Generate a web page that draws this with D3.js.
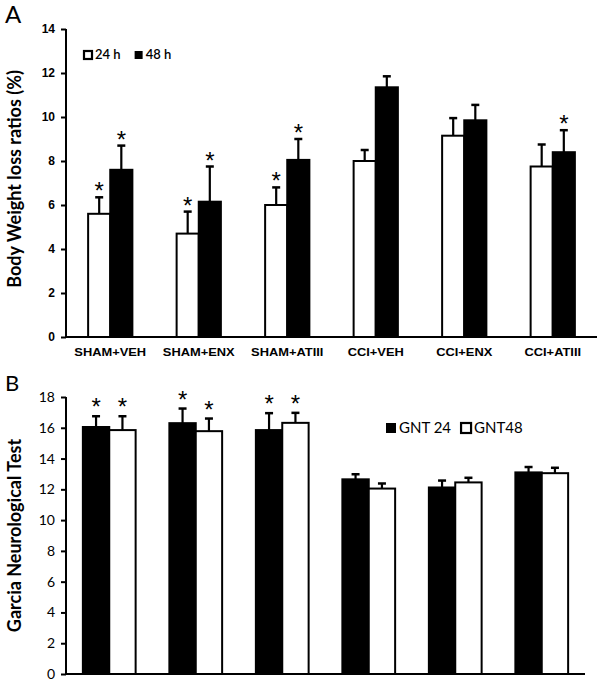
<!DOCTYPE html>
<html><head><meta charset="utf-8">
<script src="https://cdn.jsdelivr.net/npm/d3@7"></script>
<style>body{margin:0;background:#fff}svg{display:block}</style>
</head><body>
<script>
// ---- Data ----
const groups = ["SHAM+VEH","SHAM+ENX","SHAM+ATIII","CCI+VEH","CCI+ENX","CCI+ATIII"];
// Panel A: body weight loss ratios (%)
const bw24 = [5.6, 4.7, 6.0, 8.0, 9.15, 7.75];
const bw24Err = [0.75, 1.0, 0.8, 0.5, 0.8, 1.0];
const bw48 = [7.6, 6.15, 8.05, 11.35, 9.85, 8.4];
const bw48Err = [1.1, 1.6, 0.95, 0.5, 0.7, 1.0];
const bw24Star = [true, true, true, false, false, false];
const bw48Star = [true, true, true, false, false, true];
const aTicks = [0,2,4,6,8,10,12,14];
// Panel B: Garcia neurological test
const gnt24 = [16.05, 16.3, 15.85, 12.65, 12.12, 13.1];
const gnt24Err = [0.7, 0.95, 1.1, 0.33, 0.45, 0.35];
const gnt48 = [15.85, 15.78, 16.32, 12.05, 12.45, 13.05];
const gnt48Err = [0.9, 0.82, 0.65, 0.33, 0.3, 0.35];
const gnt24Star = [true, true, true, false, false, false];
const gnt48Star = [true, true, true, false, false, false];
const bTicks = [0,2,4,6,8,10,12,14,16,18];

const W = 600, H = 684;
const svg = d3.select("body").append("svg").attr("width", W).attr("height", H);

const calib = "Lato, 'Open Sans', sans-serif";
const arial = "'Liberation Sans', Arial, sans-serif";

function panel(opt) {
  const g = svg.append("g");
  const x = d3.scaleBand().domain(groups).range([opt.x0, opt.x1]).paddingInner(opt.pad).paddingOuter(opt.pad/2);
  const y = d3.scaleLinear().domain([0, opt.ymax]).range([opt.yb, opt.yt]);
  const x1 = d3.scaleBand().domain([0,1]).range([0, x.bandwidth()]);

  // bars
  opt.series.forEach((s, si) => {
    const gg = g.append("g");
    groups.forEach((c, i) => {
      const bx = x(c) + x1(si);
      const v = s.vals[i], e = s.errs[i];
      const cx = bx + x1.bandwidth()/2;
      gg.append("line").attr("x1", cx).attr("x2", cx).attr("y1", y(v)).attr("y2", y(v+e))
        .attr("stroke", "#000").attr("stroke-width", 2.2);
      gg.append("line").attr("x1", cx-4).attr("x2", cx+4).attr("y1", y(v+e)).attr("y2", y(v+e))
        .attr("stroke", "#000").attr("stroke-width", 2.5);
      gg.append("rect").attr("x", bx).attr("y", y(v)).attr("width", x1.bandwidth()).attr("height", y(0)-y(v))
        .attr("fill", s.fill).attr("stroke", "#000").attr("stroke-width", 2);
      if (s.stars[i]) {
        gg.append("text").attr("x", cx).attr("y", y(v+e) - 3 + opt.starDy)
          .attr("text-anchor", "middle").attr("font-family", arial).attr("font-size", 24)
          .attr("fill", "#000").text("*");
      }
    });
  });

  // y axis
  const ya = d3.axisLeft(y).tickValues(opt.ticks).tickSize(5).tickPadding(opt.tickPad).tickSizeOuter(0);
  const yg = g.append("g").attr("transform", `translate(${opt.x0},0)`).call(ya);
  yg.select(".domain").attr("stroke-width", 2).attr("d", `M0,${opt.yb}V${opt.yt}`);
  yg.selectAll(".tick line").attr("stroke-width", 2);
  yg.selectAll(".tick text").attr("font-family", opt.tickFont).attr("font-weight", opt.tickWeight)
    .attr("font-size", opt.tickSize).attr("fill", "#000");

  // x axis
  const xa = d3.axisBottom(x).tickSize(0).tickPadding(opt.xLabPad).tickSizeOuter(0);
  const xg = g.append("g").attr("transform", `translate(0,${opt.yb})`).call(xa);
  xg.select(".domain").attr("stroke-width", 2).attr("d", `M${opt.x0},0H${opt.x1}`);
  if (opt.xLabels) {
    xg.selectAll(".tick text").attr("font-family", arial).attr("font-weight", "bold")
      .attr("font-size", 11.5).attr("fill", "#000").attr("transform", "scale(1.12,1)");
  } else {
    xg.selectAll(".tick text").remove();
  }

  // y title
  g.append("text").attr("transform", `translate(${opt.titleX},${(opt.yt+opt.yb)/2 + opt.titleDy}) rotate(-90)`)
    .attr("text-anchor", "middle").attr("font-family", calib).attr("font-weight", "bold")
    .attr("font-size", opt.titleSize).attr("fill", "#000").text(opt.title);

  // panel letter
  g.append("text").attr("x", 5).attr("y", opt.letterY).attr("font-family", calib)
    .attr("font-size", opt.letterSize).attr("fill", "#000").text(opt.letter);

  // legend
  let lx = opt.legX;
  opt.series.forEach((s, si) => {
    const item = g.append("g");
    item.append("rect").attr("x", lx).attr("y", opt.legY - opt.legBox + 1).attr("width", opt.legBox).attr("height", opt.legBox)
      .attr("fill", s.fill).attr("stroke", "#000").attr("stroke-width", s.fill === "#fff" ? 2.2 : 0);
    const t = item.append("text").attr("x", lx + opt.legBox + 3).attr("y", opt.legY + 1)
      .attr("font-family", calib).attr("font-weight", opt.legWeight).attr("font-size", opt.legSize)
      .attr("fill", "#000").text(s.name);
    lx += opt.legBox + 3 + t.node().getComputedTextLength() + opt.legGap;
  });
}

panel({
  x0: 66, x1: 597, yt: 29, yb: 337, ymax: 14, pad: 0.5,
  ticks: aTicks, tickFont: arial, tickWeight: "bold", tickSize: 12, tickPad: 6,
  xLabels: true, xLabPad: 11,
  title: "Body Weight loss ratios (%)", titleX: 21, titleDy: -4, titleSize: 18,
  letter: "A", letterY: 23, letterSize: 24, starDy: 5,
  legX: 84, legY: 58, legBox: 8, legSize: 13, legWeight: 600, legGap: 14,
  series: [
    {name: "24 h", vals: bw24, errs: bw24Err, stars: bw24Star, fill: "#fff"},
    {name: "48 h", vals: bw48, errs: bw48Err, stars: bw48Star, fill: "#000"}
  ]
});

panel({
  x0: 66, x1: 585, yt: 397, yb: 674, ymax: 18, pad: 0.39,
  ticks: bTicks, tickFont: calib, tickWeight: "normal", tickSize: 14, tickPad: 6,
  xLabels: false, xLabPad: 10,
  title: "Garcia Neurological Test", titleX: 21, titleDy: 0, titleSize: 18,
  letter: "B", letterY: 391, letterSize: 22, starDy: 2,
  legX: 386, legY: 432, legBox: 10, legSize: 15, legWeight: "normal", legGap: 10,
  series: [
    {name: "GNT 24", vals: gnt24, errs: gnt24Err, stars: gnt24Star, fill: "#000"},
    {name: "GNT48", vals: gnt48, errs: gnt48Err, stars: gnt48Star, fill: "#fff"}
  ]
});
</script>
</body></html>
